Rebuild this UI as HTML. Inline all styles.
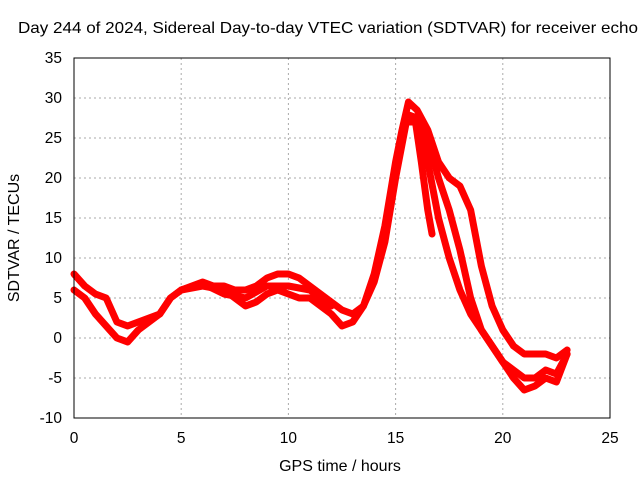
<!DOCTYPE html>
<html><head><meta charset="utf-8"><style>
body{margin:0;background:#fff;}
svg text{font-family:"Liberation Sans",sans-serif;font-size:15.5px;fill:#000;}
</style></head><body>
<svg id="chart" width="640" height="480" xmlns="http://www.w3.org/2000/svg">
<text x="18" y="33" textLength="620" lengthAdjust="spacingAndGlyphs" style="font-size:16px">Day 244 of 2024, Sidereal Day-to-day VTEC variation (SDTVAR) for receiver echo</text>
<g id="grid"></g><g id="ticks"></g><g id="series"></g>
<rect x="74" y="58" width="536" height="360" fill="none" stroke="#000"/>
<text x="340" y="471" text-anchor="middle" style="font-size:16px">GPS time / hours</text>
<text transform="translate(19,238) rotate(-90)" text-anchor="middle" style="font-size:16px">SDTVAR / TECUs</text>
</svg>
<script>
const xTicks=[0,5,10,15,20,25];
const yTicks=[-10,-5,0,5,10,15,20,25,30,35];
const traceA_t=[0,0.5,1,1.5,2,2.5,3,3.5,4,4.5,5,5.5,6,6.5,7,7.5,8,8.5,9,9.5,10,10.5,11,11.5,12,12.5,13,13.5,14,14.5,15,15.3,15.6,16,16.5,17,17.5,18,18.5,19,19.5,20,20.5,21,21.5,22,22.5,23];
const traceA_v=[8,6.5,5.5,5,2,1.5,2,2.5,3,5,6,6.5,7,6.5,6.5,6,6,6.5,7.5,8,8,7.5,6.5,5.5,4.5,3.5,3,4,8,14,22,26,29.5,28.5,26,22,20,19,16,9,4,1,-1,-2,-2,-2,-2.5,-1.5];
const traceB_t=[0,0.5,1,1.5,2,2.5,3,3.5,4,4.5,5,6,7,7.5,8,8.5,9,9.5,10,10.5,11,11.5,12,12.5,13,13.5,14,14.5,15,15.5,16,16.5,17,17.5,18,18.5,19,19.5,20,20.5,21,21.5,22,22.5,23];
const traceB_v=[6,5,3,1.5,0,-0.5,1,2,3,5,6,6.5,6,5,4,4.5,5.5,6,5.5,5,5,4,3,1.5,2,4,7,12,20,27,27,22,15,10,6,3,1,-1,-3,-5,-6.5,-6,-5,-5.5,-2];
const traceC_t=[5,6,7,8,9,10,11,12];
const traceC_v=[6,6.8,5.5,5,6.5,6.5,6,4];
const traceE_t=[15.5,16,16.5,17,17.5,18,18.5,19,19.5,20,20.5,21,21.5,22,22.5,23];
const traceE_v=[28,27.5,25,20,16,11,5,1,-1,-3,-4,-5,-5,-4,-4.5,-2];
const traceD_t=[15.9,16.2,16.5,16.7];
const traceD_v=[27.5,22,16,13];
const X=t=>74+t*536/25, Y=v=>418-(v+10)*8;
const ns="http://www.w3.org/2000/svg";
const grid=document.getElementById('grid'),ticks=document.getElementById('ticks'),ser=document.getElementById('series');
xTicks.forEach(t=>{
 if(t>0&&t<25){const l=document.createElementNS(ns,'line');
 l.setAttribute('x1',X(t));l.setAttribute('x2',X(t));l.setAttribute('y1',58);l.setAttribute('y2',418);
 l.setAttribute('stroke','#aaa');l.setAttribute('stroke-dasharray','2,3');
 
 grid.appendChild(l);}
 const tx=document.createElementNS(ns,'text');tx.setAttribute('x',X(t));tx.setAttribute('y',443);tx.setAttribute('text-anchor','middle');tx.textContent=t;
 
 ticks.appendChild(tx);
});
yTicks.forEach(v=>{
 if(v>-10&&v<35){const l=document.createElementNS(ns,'line');
 l.setAttribute('x1',74);l.setAttribute('x2',610);l.setAttribute('y1',Y(v));l.setAttribute('y2',Y(v));
 l.setAttribute('stroke','#aaa');l.setAttribute('stroke-dasharray','2,3');
 
 grid.appendChild(l);}
 const tx=document.createElementNS(ns,'text');tx.setAttribute('x',62);tx.setAttribute('y',Y(v)+5);tx.setAttribute('text-anchor','end');tx.textContent=v;
 
 ticks.appendChild(tx);
});
function draw(ts,vs,name){
 const p=document.createElementNS(ns,'polyline');
 p.setAttribute('points',ts.map((t,i)=>X(t)+','+Y(vs[i])).join(' '));
 p.setAttribute('fill','none');p.setAttribute('stroke','#f00');p.setAttribute('stroke-width','7');
 p.setAttribute('stroke-linejoin','round');p.setAttribute('stroke-linecap','round');
 
 ser.appendChild(p);
}
draw(traceA_t,traceA_v,'series-upper-band');
draw(traceB_t,traceB_v,'series-lower-band');
draw(traceC_t,traceC_v,'series-middle-band-day');
draw(traceE_t,traceE_v,'series-middle-band-evening');
draw(traceD_t,traceD_v,'series-spike');
</script>
</body></html>
